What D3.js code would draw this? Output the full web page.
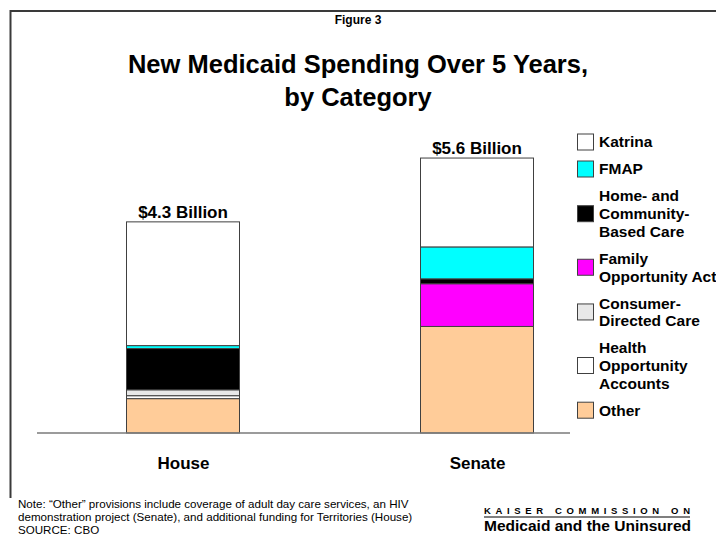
<!DOCTYPE html>
<html>
<head>
<meta charset="utf-8">
<script src="https://cdn.jsdelivr.net/npm/d3@7"></script>
<style>
  html, body { margin: 0; padding: 0; background: #fff; }
  svg { display: block; font-family: Arial, "Liberation Sans", Helvetica, sans-serif; }
</style>
</head>
<body>
<svg id="chart" width="716" height="536"></svg>
<script>
// Chambers compared
const chambers = ["House", "Senate"];
const totalLabels = ["$4.3 Billion", "$5.6 Billion"];

// Spending categories, stacked bottom to top ($ billions over 5 years)
const categories = [
  "Other",
  "Health Opportunity Accounts",
  "Consumer-Directed Care",
  "Family Opportunity Act",
  "Home- and Community-Based Care",
  "FMAP",
  "Katrina"
];
const houseValues  = [0.70, 0.06, 0.12, 0.00, 0.84, 0.06, 2.52];
const senateValues = [2.17, 0.00, 0.00, 0.87, 0.10, 0.65, 1.81];
const totals = [4.3, 5.6];

// Legend text, one entry per category (top to bottom), split into lines
const legendLines = [
  ["Katrina"],
  ["FMAP"],
  ["Home- and", "Community-", "Based Care"],
  ["Family", "Opportunity Act"],
  ["Consumer-", "Directed Care"],
  ["Health", "Opportunity", "Accounts"],
  ["Other"]
];
const categoryColors = ["#ffcc99", "#ffffff", "#e8e8e8", "#ff00ff", "#000000", "#00ffff", "#ffffff"];

const svg = d3.select("#chart");
const W = 716, H = 536;

svg.append("rect").attr("width", W).attr("height", H).attr("fill", "#fff");

// slide frame (top and left edges)
svg.append("path")
  .attr("d", "M10.5,498 V11 H716")
  .attr("fill", "none")
  .attr("stroke", "#3a3a3a")
  .attr("stroke-width", 2);

// titles
svg.append("text").attr("x", 358).attr("y", 24)
  .attr("text-anchor", "middle").attr("font-size", 12).attr("font-weight", "bold")
  .text("Figure 3");
svg.append("text").attr("x", 358).attr("y", 73)
  .attr("text-anchor", "middle").attr("font-size", 25.5).attr("font-weight", "bold")
  .text("New Medicaid Spending Over 5 Years,");
svg.append("text").attr("x", 358).attr("y", 106)
  .attr("text-anchor", "middle").attr("font-size", 25.5).attr("font-weight", "bold")
  .text("by Category");

// scales
const baseY = 433;
const x = d3.scalePoint().domain(chambers).range([36, 624]).padding(0.5);
const y = d3.scaleLinear().domain([0, 6]).range([baseY, baseY - 6 * 49.1]);
const color = d3.scaleOrdinal().domain(categories).range(categoryColors);
const barW = 113;

// stacked data
const rows = chambers.map((c, i) => {
  const r = { chamber: c };
  categories.forEach((k, j) => { r[k] = (i === 0 ? houseValues : senateValues)[j]; });
  return r;
});
const stacked = d3.stack().keys(categories)(rows);

const layers = svg.append("g").selectAll("g")
  .data(stacked).join("g")
  .attr("fill", d => color(d.key));

layers.selectAll("rect")
  .data(d => d.filter(s => s[1] - s[0] > 0))
  .join("rect")
  .attr("x", d => x(d.data.chamber) - barW / 2)
  .attr("y", d => y(d[1]))
  .attr("width", barW)
  .attr("height", d => y(d[0]) - y(d[1]))
  .attr("stroke", "#404040")
  .attr("stroke-width", 1);

// baseline axis
const axis = d3.axisBottom(x).tickSize(0).tickPadding(0);
const axisG = svg.append("g").attr("transform", `translate(0,${baseY})`).call(axis);
axisG.select(".domain").attr("d", "M37,0H570").attr("stroke", "#7a7a7a").attr("stroke-width", 1.5);
axisG.selectAll(".tick text")
  .attr("y", 36).attr("dy", 0)
  .attr("font-size", 17).attr("font-weight", "bold")
  .attr("font-family", "Arial, 'Liberation Sans', sans-serif")
  .attr("fill", "#000");

// totals above bars
svg.append("g").selectAll("text")
  .data(chambers).join("text")
  .attr("x", d => x(d))
  .attr("y", (d, i) => y(totals[i]) - 4)
  .attr("text-anchor", "middle")
  .attr("font-size", 17).attr("font-weight", "bold")
  .text((d, i) => totalLabels[i]);

// legend, top entry = top of stack
const legendOrder = categories.slice().reverse();
const lh = 17.7, blockGap = 27;
let cy = 142;
const legendG = svg.append("g");
legendOrder.forEach((k, i) => {
  const lines = legendLines[i];
  const first = cy;
  const last = cy + (lines.length - 1) * lh;
  const mid = (first + last) / 2;
  legendG.append("rect")
    .attr("x", 577.5).attr("y", mid - 8)
    .attr("width", 16).attr("height", 16)
    .attr("fill", color(k)).attr("stroke", "#404040").attr("stroke-width", 1);
  lines.forEach((ln, j) => {
    legendG.append("text")
      .attr("x", 599).attr("y", first + j * lh + 5.4)
      .attr("font-size", 15.5).attr("font-weight", "bold")
      .text(ln);
  });
  cy = last + blockGap;
});

// footnote
const notes = [
  "Note: \u201COther\u201D provisions include coverage of adult day care services, an HIV",
  "demonstration project (Senate), and additional funding for Territories (House)",
  "SOURCE: CBO"
];
svg.append("g").selectAll("text")
  .data(notes).join("text")
  .attr("x", 18).attr("y", (d, i) => 508 + i * 13)
  .attr("font-size", 11.6)
  .attr("fill", "#000")
  .text(d => d);

// publisher mark
svg.append("text").attr("x", 484).attr("y", 514)
  .attr("font-size", 9.5).attr("font-weight", "bold")
  .attr("textLength", 206).attr("lengthAdjust", "spacing")
  .text("KAISER COMMISSION ON");
svg.append("line").attr("x1", 484).attr("x2", 690).attr("y1", 517).attr("y2", 517)
  .attr("stroke", "#000").attr("stroke-width", 1.2);
svg.append("text").attr("x", 484).attr("y", 531)
  .attr("font-size", 14.5).attr("font-weight", "bold")
  .attr("textLength", 207).attr("lengthAdjust", "spacingAndGlyphs")
  .text("Medicaid and the Uninsured");
</script>
</body>
</html>
